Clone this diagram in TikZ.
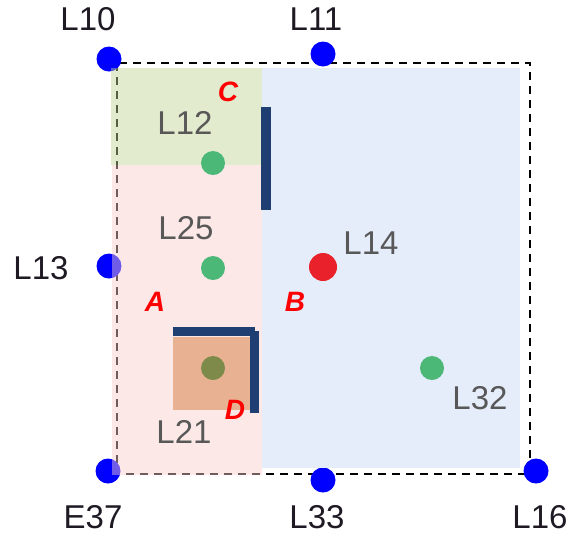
\documentclass[tikz,border=0pt]{standalone}
\usepackage{fontspec}
\setmainfont{Liberation Sans}
\definecolor{pointblue}{RGB}{0,0,255}
\definecolor{barblue}{RGB}{31,63,115}
\definecolor{zoneB}{RGB}{230,237,250}
\definecolor{zoneA}{RGB}{251,204,204}
\definecolor{zoneC}{RGB}{191,211,144}
\definecolor{zoneD}{RGB}{232,178,146}
\definecolor{ptgreen}{RGB}{76,184,120}
\definecolor{ptolive}{RGB}{125,138,74}
\definecolor{ptred}{RGB}{232,33,42}
\definecolor{lblgray}{RGB}{88,88,88}
\definecolor{lbldark}{RGB}{30,25,35}
\begin{document}
\begin{tikzpicture}[x=1pt,y=-1pt,
  corner/.style={circle,fill=pointblue,inner sep=0pt,minimum size=25pt},
  inpt/.style={circle,fill=#1,inner sep=0pt,minimum size=24pt},
  outlbl/.style={inner sep=0pt,text=lbldark,font=\fontsize{33}{36}\selectfont},
  inlbl/.style={inner sep=0pt,text=lblgray,font=\fontsize{33}{36}\selectfont},
  zonelbl/.style={inner sep=0pt,text=red,font=\fontsize{28}{30}\selectfont\bfseries\itshape},
  border/.style={draw=black,line width=2.6pt,dash pattern=on 8pt off 6pt},
  bar/.style={fill=barblue}]
\useasboundingbox (0,0) rectangle (570,542);

% outer dashed boundary
\draw[border] (117,63) rectangle (530,474);

% boundary points
\node[corner] (p10) at (109,59) {};
\node[corner] (p11) at (323,54) {};
\node[corner] (p13) at (109,266) {};
\node[corner] (e37) at (108,471) {};
\node[corner] (p33) at (323,480) {};
\node[corner] (p16) at (536,471) {};

% zones
\fill[zoneB] (262,68) rectangle (520,468);
\fill[zoneC,opacity=0.45] (111,68) rectangle (262,165);
\fill[zoneA,opacity=0.45] (112,165) rectangle (262,475);
\fill[zoneD] (173,337) rectangle (250,410);

% walls
\fill[bar] (261,107) rectangle (271,210);
\fill[bar] (173,327) rectangle (255,336);
\fill[bar] (250,331) rectangle (259,413);

% interior points
\node[inpt=ptgreen] (p12) at (213,163) {};
\node[inpt=ptgreen] (p25) at (213,268) {};
\node[inpt=ptgreen] (p32) at (432,368) {};
\node[inpt=ptolive] (p21) at (213,368) {};
\node[circle,fill=ptred,inner sep=0pt,minimum size=28pt] (p14) at (323,267) {};

% point labels
\node[outlbl] (t10) at (88,19) {L10};
\node[outlbl] (t11) at (316,19) {L11};
\node[outlbl] (t13) at (41,268) {L13};
\node[outlbl] (t37) at (93,517) {E37};
\node[outlbl] (t33) at (317,517) {L33};
\node[outlbl] (t16) at (540,517) {L16};
\node[inlbl] (t12) at (185,123) {L12};
\node[inlbl] (t25) at (186,228) {L25};
\node[inlbl] (t21) at (184,432) {L21};
\node[inlbl] (t14) at (371,243) {L14};
\node[inlbl] (t32) at (480,398) {L32};

% zone labels
\node[zonelbl] (zc) at (228,92) {C};
\node[zonelbl] (za) at (155,302) {A};
\node[zonelbl] (zb) at (295,302) {B};
\node[zonelbl] (zd) at (235,410) {D};
\end{tikzpicture}
\end{document}
